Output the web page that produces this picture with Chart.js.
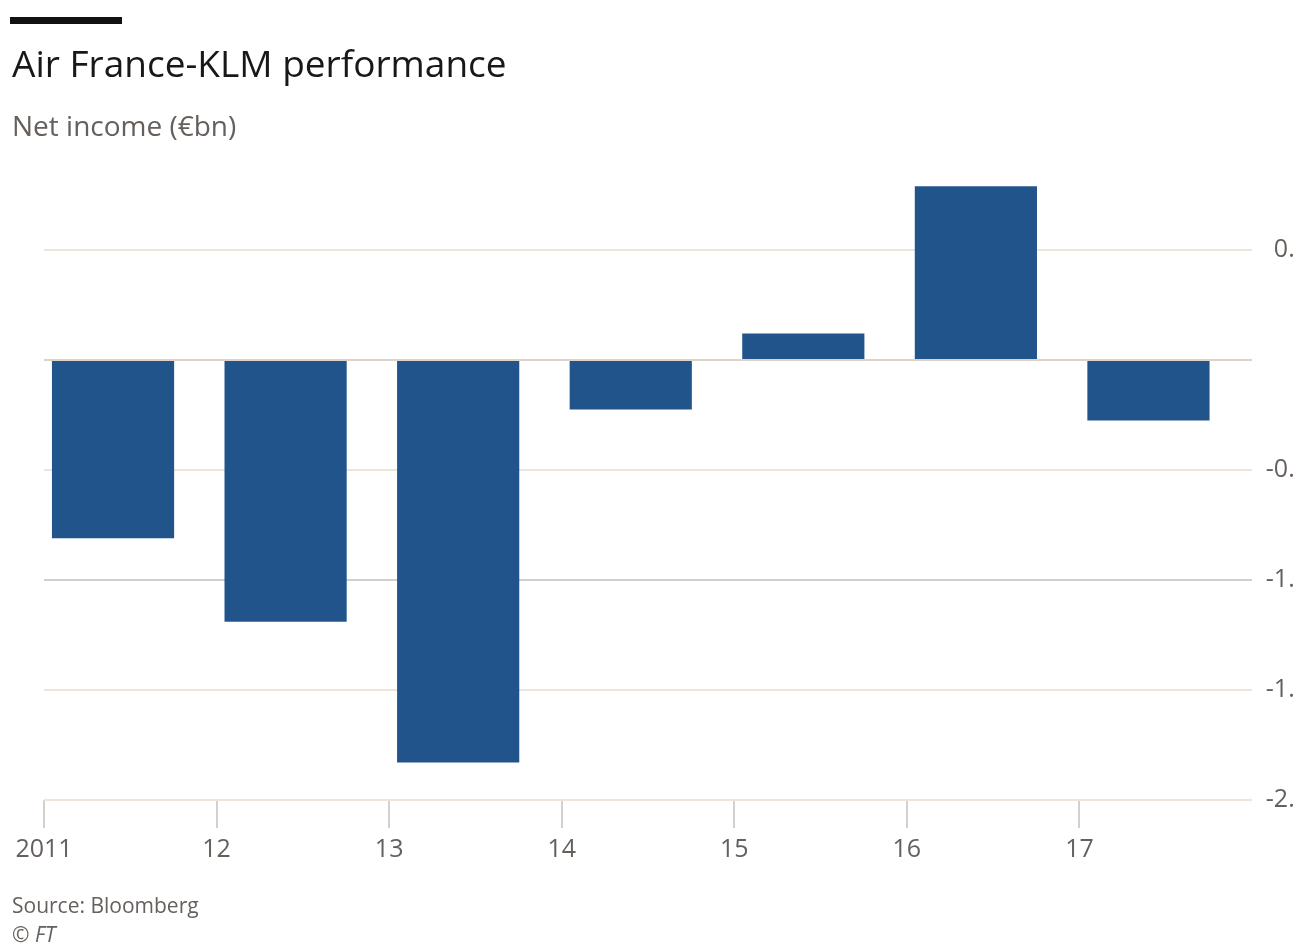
<!DOCTYPE html>
<html>
<head>
<meta charset="utf-8">
<script src="https://cdn.jsdelivr.net/npm/chart.js@4"></script>
<style>
  body { margin: 0; background: #fff; width: 1295px; height: 946px; overflow: hidden; position: relative; font-family: "Open Sans", "Noto Sans", sans-serif; }
  #bar { position: absolute; left: 10px; top: 17px; width: 112px; height: 7px; background: #111; }
  #title { position: absolute; left: 12px; top: 44px; font-size: 37px; color: #1a1817; line-height: 1; }
  #subtitle { position: absolute; left: 12px; top: 111px; font-size: 28px; color: #66605c; line-height: 1; }
  #source { position: absolute; left: 12px; top: 895px; font-size: 21px; color: #66605c; line-height: 1; }
  #copy { position: absolute; left: 12px; top: 924px; font-size: 21px; color: #66605c; line-height: 1; font-style: italic; }
  #wrap { position: absolute; left: 0; top: 0; width: 1295px; height: 946px; }
</style>
</head>
<body>
<div id="wrap"><canvas id="chart"></canvas></div>
<div id="bar"></div>
<div id="title">Air France-KLM performance</div>
<div id="subtitle">Net income (€bn)</div>
<div id="source">Source: Bloomberg</div>
<div id="copy">© FT</div>
<script>
'use strict';

// data
const years = [2011, 2012, 2013, 2014, 2015, 2016, 2017];
const netIncome = [-0.81, -1.19, -1.83, -0.225, 0.12, 0.79, -0.275];
const yearLabels = ['2011', '12', '13', '14', '15', '16', '17'];
const yTicks = [0.5, 0, -0.5, -1.0, -1.5, -2.0];
const yTickLabels = ['0.5', '0', '-0.5', '-1.0', '-1.5', '-2.0'];

const ctx = document.getElementById('chart');

new Chart(ctx, {
  type: 'bar',
  data: {
    datasets: [{
      label: 'Net income (€bn)',
      data: years.map((yr, i) => ({ x: yr, y: netIncome[i] })),
      backgroundColor: '#20548b',
      borderWidth: 0,
      xAxisID: 'xBars',
      categoryPercentage: 1,
      barPercentage: 0.708
    }]
  },
  options: {
    responsive: true,
    maintainAspectRatio: false,
    animation: false,
    layout: {
      // right side runs past the canvas edge so the y labels get cut off like in the original
      padding: { top: 162, left: 44, right: -14, bottom: 76 }
    },
    plugins: {
      legend: { display: false },
      tooltip: { enabled: false }
    },
    scales: {
      x: {
        type: 'linear',
        min: 2011,
        max: 2018,
        offset: false,
        afterBuildTicks: (scale) => {
          scale.ticks = years.map(v => ({ value: v }));
        },
        afterFit: (scale) => { scale.height = 70; },
        ticks: {
          autoSkip: false,
          maxRotation: 0,
          padding: 7,
          color: '#66605c',
          font: { family: 'Open Sans', size: 25 },
          callback: (value) => yearLabels[years.indexOf(value)]
        },
        grid: {
          offset: false,
          drawOnChartArea: false,
          drawTicks: true,
          tickLength: 28,
          tickColor: '#d4d0cc',
          lineWidth: 2
        },
        border: { display: false }
      },
      // hidden axis that places each bar just right of its year tick
      xBars: {
        type: 'linear',
        display: false,
        offset: false,
        min: 2011 - 0.4,
        max: 2018 - 0.4,
        grid: { offset: false },
        afterBuildTicks: (scale) => {
          scale.ticks = years.map(v => ({ value: v }));
        }
      },
      y: {
        position: 'right',
        min: -2.0,
        max: 0.9,
        afterBuildTicks: (scale) => {
          scale.ticks = yTicks.map(v => ({ value: v }));
        },
        afterFit: (scale) => { scale.width = 57; },
        ticks: {
          crossAlign: 'far',
          padding: 10,
          color: '#66605c',
          font: { family: 'Open Sans', size: 25 },
          callback: (value) => yTickLabels[yTicks.indexOf(value)]
        },
        grid: {
          drawTicks: false,
          lineWidth: 2,
          color: (c) => {
            if (!c.tick) return '#ede4db';
            if (c.tick.value === -1) return '#cfcfcf';
            if (c.tick.value === 0) return '#ddd3ca';
            return '#ede4db';
          }
        },
        border: { display: false }
      }
    }
  }
});
</script>
</body>
</html>
